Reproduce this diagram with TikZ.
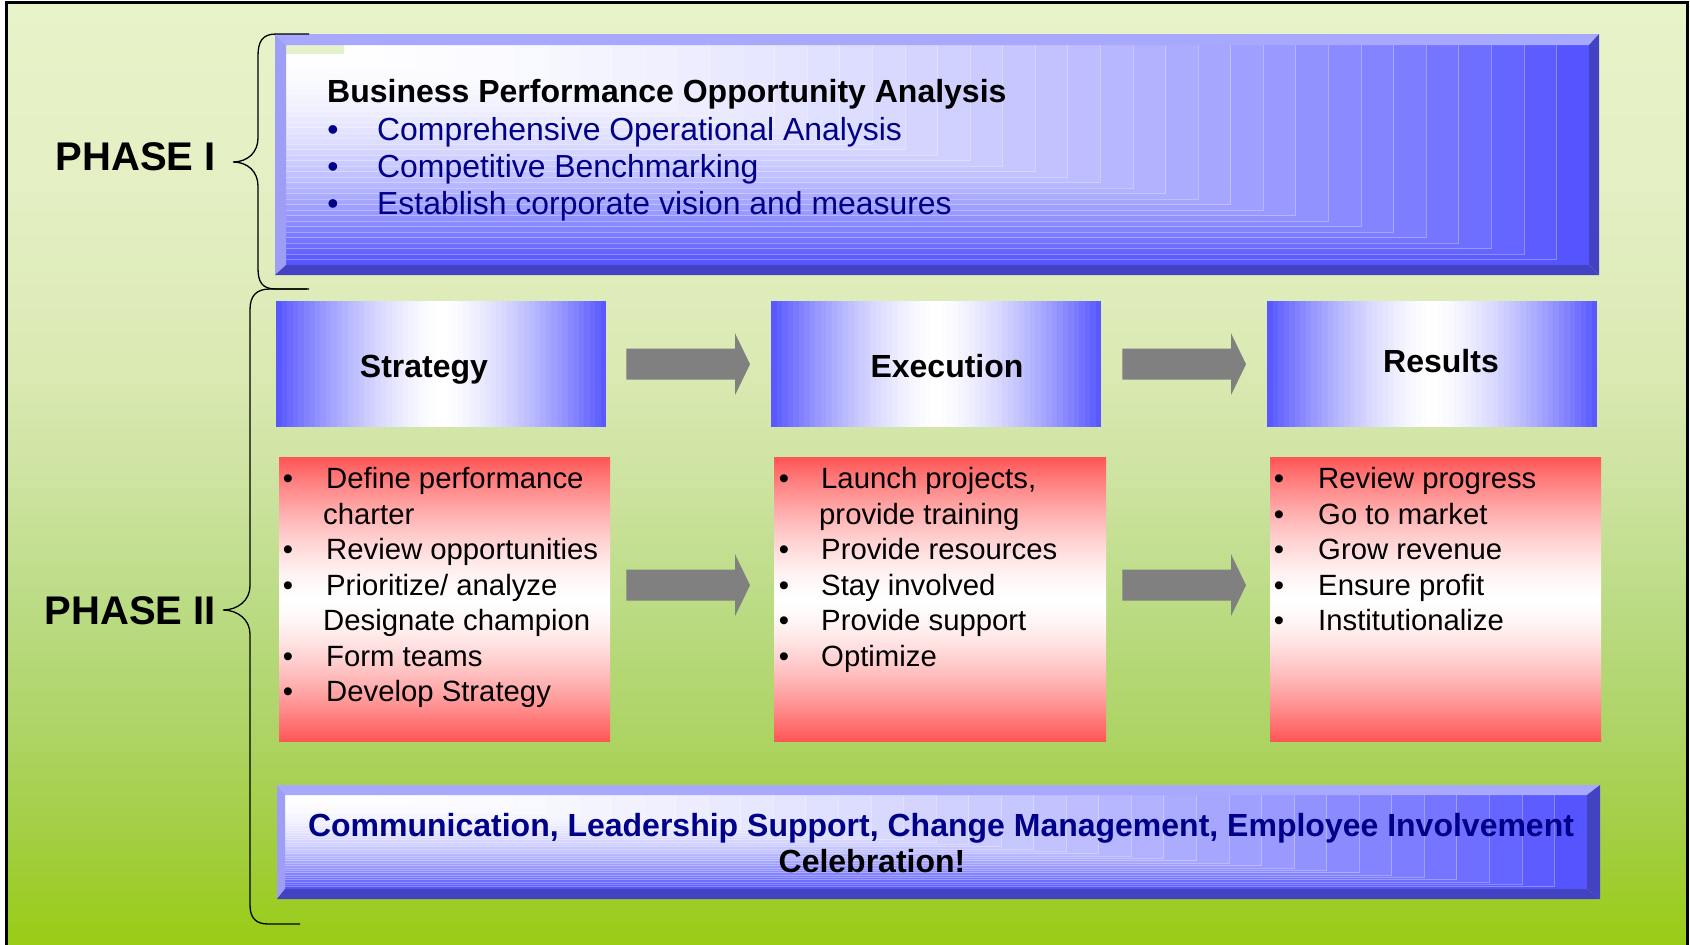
\documentclass[tikz,border=0pt]{standalone}
\usepackage{fontspec}
\setmainfont{Liberation Sans}
\usetikzlibrary{calc}
\definecolor{bb}{HTML}{5555FF}
\definecolor{rr}{HTML}{FF5555}
\definecolor{navy}{HTML}{000088}
\definecolor{agray}{HTML}{808080}
\definecolor{bevlight}{HTML}{A8A8FF}
\definecolor{bevleft}{HTML}{9E9EF6}
\definecolor{bevdark}{HTML}{4242C2}
\definecolor{patch}{HTML}{E3F2C9}
\definecolor{g0}{HTML}{E8F3C9}
\definecolor{g1}{HTML}{E4EFC3}
\definecolor{g2}{HTML}{DBEAB4}
\definecolor{g3}{HTML}{CDE3A0}
\definecolor{g4}{HTML}{BBDB84}
\definecolor{g5}{HTML}{AED466}
\definecolor{g6}{HTML}{A2CE40}
\definecolor{g7}{HTML}{99CC14}
\colorlet{r100}{rr}
\colorlet{r85}{rr!85.4!white}
\colorlet{r72}{rr!71.6!white}
\colorlet{r59}{rr!58.6!white}
\colorlet{r46}{rr!46.5!white}
\colorlet{r35}{rr!35.4!white}
\colorlet{r25}{rr!25.3!white}
\colorlet{r16}{rr!16.4!white}
\colorlet{r9}{rr!8.9!white}
\colorlet{r3}{rr!3.2!white}
\pgfdeclareverticalshading{redbar}{100bp}{color(0bp)=(r100); color(25bp)=(r100); color(27.5bp)=(r85); color(30bp)=(r72); color(32.5bp)=(r59); color(35bp)=(r46); color(37.5bp)=(r35); color(40bp)=(r25); color(42.5bp)=(r16); color(45bp)=(r9); color(47.5bp)=(r3); color(50bp)=(white); color(52.5bp)=(r3); color(55bp)=(r9); color(57.5bp)=(r16); color(60bp)=(r25); color(62.5bp)=(r35); color(65bp)=(r46); color(67.5bp)=(r59); color(70bp)=(r72); color(72.5bp)=(r85); color(75bp)=(r100); color(100bp)=(r100)}
\pgfdeclareverticalshading{bggrad}{100bp}{color(0bp)=(g7); color(25bp)=(g7); color(30.5bp)=(g6); color(36.5bp)=(g5); color(43bp)=(g4); color(49.5bp)=(g3); color(56bp)=(g2); color(65.5bp)=(g1); color(75bp)=(g0); color(100bp)=(g0)}
\newcommand\cornergrad[4]{%
  \foreach \i in {40,39,...,1}{%
    \pgfmathsetmacro\frac{\i/40}%
    \pgfmathsetmacro\pct{100*\frac*\frac}%
    \pgfmathsetmacro\xr{#1+#3*\frac}%
    \pgfmathsetmacro\yb{#2+#4*\frac}%
    \fill[bb!\pct!white] (#1,#2) rectangle (\xr,\yb);
    \draw[white,opacity=.3,line width=.7] (\xr,#2) -- (\xr,\yb) -- (#1,\yb);
  }}
\newcommand\bluestrips[4]{%
  \foreach \i in {0,...,59}{%
    \pgfmathsetmacro\dd{abs((\i+0.5)/60-0.5)*2}%
    \pgfmathsetmacro\pct{100*pow(\dd,1.5)}%
    \pgfmathsetmacro\xa{#1+#3/60*\i}%
    \pgfmathsetmacro\xb{min(#1+#3/60*(\i+1)+0.6,#1+#3)}%
    \fill[bb!\pct!white] (\xa,#2) rectangle (\xb,#2+#4);
  }}
\newcommand\blockarrow[2]{%
  \fill[agray] ($(#1)+(0,-15.5)$) -- ($(#2)+(-15,-15.5)$) -- ($(#2)+(-15,-31)$) -- (#2) -- ($(#2)+(-15,31)$) -- ($(#2)+(-15,15.5)$) -- ($(#1)+(0,15.5)$) -- cycle;}
\tikzset{
  phasefont/.style={font=\fontsize{40}{48}\selectfont\bfseries, inner sep=0},
  hdr/.style={font=\fontsize{32}{38}\selectfont\bfseries, inner sep=0},
  itm/.style={font=\fontsize{31.9}{38}\selectfont, text=navy, inner sep=0},
  lst/.style={font=\fontsize{29.3}{35}\selectfont, inner sep=0},
  bluehead/.style={inner sep=0, minimum width=330pt, minimum height=126pt, anchor=north west},
  redlist/.style={shading=redbar, inner sep=0, minimum height=284pt, anchor=north west},
  brace/.style={line width=1.3pt, black}
}
\begin{document}
\begin{tikzpicture}[x=1pt,y=-1pt]
\useasboundingbox (0,0) rectangle (1690,945);
% background
\fill[white] (0,0) rectangle (1690,945);
\shade[shading=bggrad] (6.7,2.7) rectangle (1687.6,946);
\draw[line width=2.6pt] (6.7,946) -- (6.7,2.7) -- (1687.6,2.7) -- (1687.6,946);

% ---------- Phase I box ----------
\cornergrad{286}{45}{1303}{220}
\fill[patch] (286,45) rectangle (344,54);
\fill[bevlight] (275,34) -- (1599,34) -- (1589,45) -- (286,45) -- cycle;
\fill[bevleft] (275,34) -- (286,45) -- (286,265) -- (275,275) -- cycle;
\fill[bevdark] (1599,34) -- (1599,275) -- (1589,265) -- (1589,45) -- cycle;
\fill[bevdark] (275,275) -- (1599,275) -- (1589,265) -- (286,265) -- cycle;
\node[inner sep=0, minimum width=1324pt, minimum height=241pt, anchor=north west] (p1) at (275,34) {};
\node[hdr, anchor=base west] (p1t) at (327,102) {Business Performance Opportunity Analysis};
\node[itm, anchor=base] (p1b1) at (333,140) {•};
\node[itm, anchor=base west] (p1i1) at (377,140) {Comprehensive Operational Analysis};
\node[itm, anchor=base] (p1b2) at (333,177) {•};
\node[itm, anchor=base west] (p1i2) at (377,177) {Competitive Benchmarking};
\node[itm, anchor=base] (p1b3) at (333,214) {•};
\node[itm, anchor=base west] (p1i3) at (377,214) {Establish corporate vision and measures};

% ---------- Phase labels and braces ----------
\node[phasefont, anchor=base east] (ph1) at (216,170) {PHASE I};
\node[phasefont, anchor=base east] (ph2) at (216,624) {PHASE II};
\draw[brace] (309,34) -- (276,34) .. controls (262,34) and (258,42) .. (258,56) -- (258,138) .. controls (258,152) and (248,162) .. (233,162) .. controls (248,162) and (258,172) .. (258,186) -- (258,268) .. controls (258,282) and (262,289) .. (276,289) -- (309,289);
\draw[brace] (307,289) -- (270,289) .. controls (256,289) and (250,296) .. (250,310) -- (250,586) .. controls (250,600) and (238,610) .. (223,610) .. controls (238,610) and (250,620) .. (250,634) -- (250,905) .. controls (250,918) and (256,924) .. (268,924) -- (300,924);

% ---------- header boxes ----------
\bluestrips{276}{301}{330}{126}
\bluestrips{771}{301}{330}{126}
\bluestrips{1267}{301}{330}{126}
\node[bluehead] (strat) at (276,301) {};
\node[bluehead] (exec) at (771,301) {};
\node[bluehead] (res) at (1267,301) {};
\node[hdr, anchor=base] (stratt) at (424,377) {Strategy};
\node[hdr, anchor=base] (exect) at (947,377) {Execution};
\node[hdr, anchor=base] (rest) at (1441,372) {Results};

% ---------- list boxes ----------
\node[redlist, minimum width=331pt] (sl) at (279,457) {};
\node[redlist, minimum width=332pt] (el) at (774,457) {};
\node[redlist, minimum width=331pt] (rl) at (1270,457) {};

% strategy list
\node[lst, anchor=base] (sb1) at (288,488.5) {•};
\node[lst, anchor=base west] (si1) at (326,488.5) {Define performance};
\node[lst, anchor=base west] (si1b) at (323,524) {charter};
\node[lst, anchor=base] (sb2) at (288,559.5) {•};
\node[lst, anchor=base west] (si2) at (326,559.5) {Review opportunities};
\node[lst, anchor=base] (sb3) at (288,595) {•};
\node[lst, anchor=base west] (si3) at (326,595) {Prioritize/ analyze};
\node[lst, anchor=base west] (si3b) at (323,630.5) {Designate champion};
\node[lst, anchor=base] (sb4) at (288,666) {•};
\node[lst, anchor=base west] (si4) at (326,666) {Form teams};
\node[lst, anchor=base] (sb5) at (288,701.5) {•};
\node[lst, anchor=base west] (si5) at (326,701.5) {Develop Strategy};

% execution list
\node[lst, anchor=base] (eb1) at (784,488.5) {•};
\node[lst, anchor=base west] (ei1) at (821,488.5) {Launch projects,};
\node[lst, anchor=base west] (ei1b) at (819,524) {provide training};
\node[lst, anchor=base] (eb2) at (784,559.5) {•};
\node[lst, anchor=base west] (ei2) at (821,559.5) {Provide resources};
\node[lst, anchor=base] (eb3) at (784,595) {•};
\node[lst, anchor=base west] (ei3) at (821,595) {Stay involved};
\node[lst, anchor=base] (eb4) at (784,630.5) {•};
\node[lst, anchor=base west] (ei4) at (821,630.5) {Provide support};
\node[lst, anchor=base] (eb5) at (784,666) {•};
\node[lst, anchor=base west] (ei5) at (821,666) {Optimize};

% results list
\node[lst, anchor=base] (rb1) at (1279,488.5) {•};
\node[lst, anchor=base west] (ri1) at (1318,488.5) {Review progress};
\node[lst, anchor=base] (rb2) at (1279,524) {•};
\node[lst, anchor=base west] (ri2) at (1318,524) {Go to market};
\node[lst, anchor=base] (rb3) at (1279,559.5) {•};
\node[lst, anchor=base west] (ri3) at (1318,559.5) {Grow revenue};
\node[lst, anchor=base] (rb4) at (1279,595) {•};
\node[lst, anchor=base west] (ri4) at (1318,595) {Ensure profit};
\node[lst, anchor=base] (rb5) at (1279,630.5) {•};
\node[lst, anchor=base west] (ri5) at (1318,630.5) {Institutionalize};

% ---------- block arrows ----------
\coordinate (a1s) at ($(strat.east)+(20,0)$);
\coordinate (a1e) at ($(exec.west)+(-21,0)$);
\coordinate (a2s) at ($(exec.east)+(21,0)$);
\coordinate (a2e) at ($(res.west)+(-21,0)$);
\coordinate (a3s) at ($(sl.east)+(16,-14)$);
\coordinate (a3e) at ($(el.west)+(-24,-14)$);
\coordinate (a4s) at ($(el.east)+(16,-14)$);
\coordinate (a4e) at ($(rl.west)+(-24,-14)$);
\blockarrow{a1s}{a1e}
\blockarrow{a2s}{a2e}
\blockarrow{a3s}{a3e}
\blockarrow{a4s}{a4e}

% ---------- bottom box ----------
\cornergrad{285}{795}{1302}{94}
\fill[bevlight] (277,785) -- (1600,785) -- (1587,795) -- (285,795) -- cycle;
\fill[bevleft] (277,785) -- (285,795) -- (285,889) -- (277,899) -- cycle;
\fill[bevdark] (1600,785) -- (1600,899) -- (1587,889) -- (1587,795) -- cycle;
\fill[bevdark] (277,899) -- (1600,899) -- (1587,889) -- (285,889) -- cycle;
\node[inner sep=0, minimum width=1323pt, minimum height=114pt, anchor=north west] (bot) at (277,785) {};
\node[hdr, text=navy, anchor=base] (bt1) at (941,836) {Communication, Leadership Support, Change Management, Employee Involvement};
\node[hdr, anchor=base] (bt2) at (872,872) {Celebration!};
\end{tikzpicture}
\end{document}
